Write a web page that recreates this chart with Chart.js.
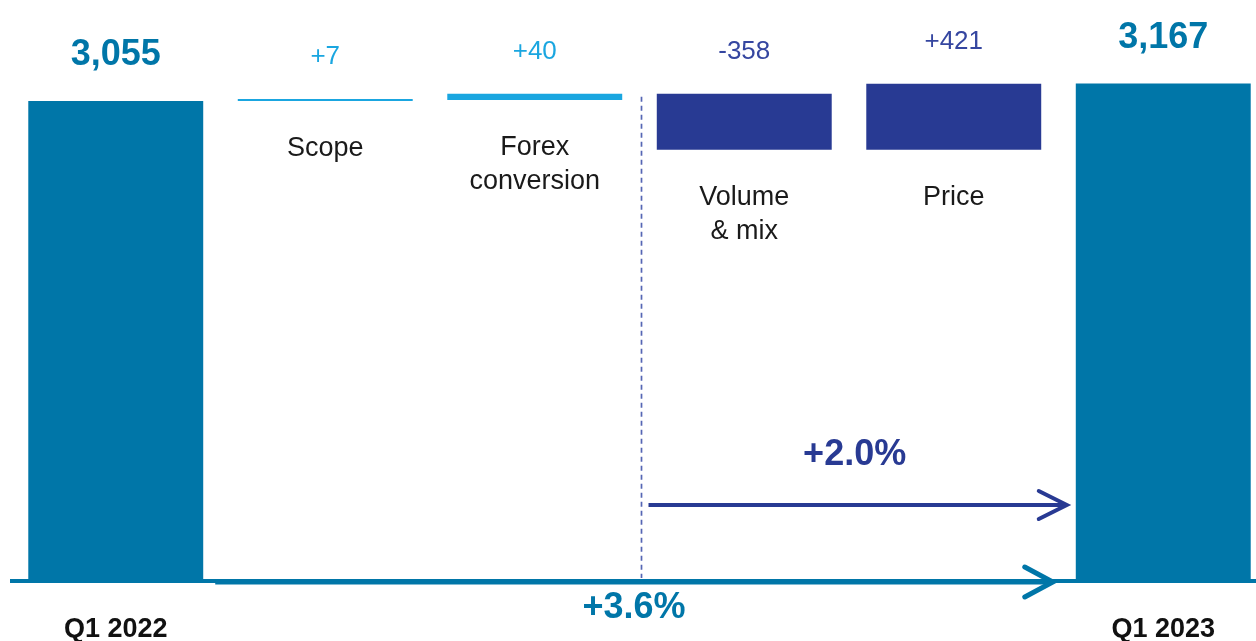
<!DOCTYPE html>
<html>
<head>
<meta charset="utf-8">
<script src="https://cdn.jsdelivr.net/npm/chart.js@4/dist/chart.umd.min.js"></script>
<style>
  html, body { margin: 0; padding: 0; background: #ffffff; overflow: hidden; }
  #wrap { width: 1268px; height: 641px; }
</style>
</head>
<body>
<div id="wrap"><canvas id="bridge" width="1268" height="641"></canvas></div>
<script>
// Sales bridge, Q1 2022 -> Q1 2023
const categories = ['Q1 2022', 'Scope', 'Forex conversion', 'Volume & mix', 'Price', 'Q1 2023'];
const categoryLines = [[], ['Scope'], ['Forex', 'conversion'], ['Volume', '& mix'], ['Price'], []];
const amounts = [3055, 7, 40, -358, 421, 3167];
const valueLabels = ['3,055', '+7', '+40', '-358', '+421', '3,167'];
const isTotal = [true, false, false, false, false, true];
const growthOrganic = '+2.0%';
const growthTotal = '+3.6%';

const TEAL = '#0076A8';
const LIGHT = '#1AA6E0';
const NAVY = '#283A93';

const barColors = ['#0076A8', '#1AA6E0', '#1AA6E0', '#283A93', '#283A93', '#0076A8'];
const labelColors = ['#0076A8', '#1AA6E0', '#1AA6E0', '#3546A0', '#3546A0', '#0076A8'];

// floating [start, end] ranges for the waterfall steps
const ranges = [];
let running = 0;
amounts.forEach((v, i) => {
  if (isTotal[i]) { ranges.push([0, v]); running = v; }
  else { ranges.push([running, running + v]); running += v; }
});

const FONT = '"Liberation Sans", Arial, Helvetica, sans-serif';

const bridgeDecor = {
  id: 'bridgeDecor',
  beforeDatasetsDraw(chart) {
    const ctx = chart.ctx;
    const meta = chart.getDatasetMeta(0);
    const b2 = meta.data[2], b3 = meta.data[3];
    const xDiv = (b2.x + b3.x) / 2 + 2;
    const yTop = Math.min(b3.y, b3.base) + 3;
    ctx.save();
    ctx.strokeStyle = '#5566B4';
    ctx.lineWidth = 1.7;
    ctx.setLineDash([5, 4]);
    ctx.beginPath();
    ctx.moveTo(xDiv, yTop);
    ctx.lineTo(xDiv, chart.chartArea.bottom - 2);
    ctx.stroke();
    ctx.restore();
  },
  afterDatasetsDraw(chart) {
    const ctx = chart.ctx;
    const area = chart.chartArea;
    const meta = chart.getDatasetMeta(0);
    const bars = meta.data.map(b => {
      const p = b.getProps(['x', 'y', 'base', 'width'], true);
      return { x: p.x, top: Math.min(p.y, p.base), bottom: Math.max(p.y, p.base), w: p.width };
    });
    const baseY = area.bottom;

    ctx.save();
    // baseline
    ctx.strokeStyle = TEAL;
    ctx.lineWidth = 4;
    ctx.beginPath();
    ctx.moveTo(10, baseY + 1);
    ctx.lineTo(chart.width, baseY + 1);
    ctx.stroke();

    // value labels above bars
    ctx.textAlign = 'center';
    ctx.textBaseline = 'alphabetic';
    bars.forEach((b, i) => {
      ctx.fillStyle = labelColors[i];
      if (isTotal[i]) {
        ctx.font = 'bold 36px ' + FONT;
        ctx.fillText(valueLabels[i], b.x, b.top - 36);
      } else {
        ctx.font = '26px ' + FONT;
        ctx.fillText(valueLabels[i], b.x, b.top - 35);
      }
    });

    // category names below the step bars
    ctx.fillStyle = '#1a1a1a';
    ctx.font = '27px ' + FONT;
    bars.forEach((b, i) => {
      categoryLines[i].forEach((line, k) => {
        ctx.fillText(line, b.x, b.bottom + 55 + k * 34);
      });
    });

    // period names under the axis
    ctx.fillStyle = '#111111';
    ctx.font = 'bold 27px ' + FONT;
    [0, 5].forEach(i => ctx.fillText(categories[i], bars[i].x, 637));

    // arrow helper: shaft plus open chevron head
    function arrow(x0, x1, y, color, lw, headLen, headHalf) {
      ctx.strokeStyle = color;
      ctx.lineWidth = lw;
      ctx.lineCap = 'butt';
      ctx.beginPath();
      ctx.moveTo(x0, y);
      ctx.lineTo(x1 - 2, y);
      ctx.stroke();
      ctx.lineCap = 'round';
      ctx.lineJoin = 'miter';
      ctx.beginPath();
      ctx.moveTo(x1 - headLen, y - headHalf);
      ctx.lineTo(x1, y);
      ctx.lineTo(x1 - headLen, y + headHalf);
      ctx.stroke();
    }

    const xDiv = (bars[2].x + bars[3].x) / 2 + 2;
    const lastLeft = bars[5].x - bars[5].w / 2;
    const firstRight = bars[0].x + bars[0].w / 2;

    // organic growth arrow
    arrow(xDiv + 7, lastLeft - 9, 505, NAVY, 4, 28, 14);
    ctx.fillStyle = NAVY;
    ctx.font = 'bold 36px ' + FONT;
    ctx.fillText(growthOrganic, (xDiv + lastLeft) / 2 - 4, 465);

    // total growth arrow along the axis
    arrow(firstRight + 12, lastLeft - 23, baseY + 2, TEAL, 5, 28, 15);
    ctx.fillStyle = TEAL;
    ctx.font = 'bold 36px ' + FONT;
    ctx.fillText(growthTotal, 634, 618);
    ctx.restore();
  }
};

new Chart(document.getElementById('bridge'), {
  type: 'bar',
  data: {
    labels: categories,
    datasets: [{
      data: ranges,
      backgroundColor: barColors,
      borderWidth: 0,
      minBarLength: 2,
      barPercentage: 0.835,
      categoryPercentage: 1.0
    }]
  },
  options: {
    responsive: false,
    animation: false,
    layout: { padding: { left: 11, right: 0, top: 0, bottom: 61 } },
    plugins: { legend: { display: false }, tooltip: { enabled: false } },
    scales: {
      x: { display: false, offset: true, grid: { display: false } },
      y: { display: false, min: 0, max: 3700, grid: { display: false } }
    }
  },
  plugins: [bridgeDecor]
});
</script>
</body>
</html>
